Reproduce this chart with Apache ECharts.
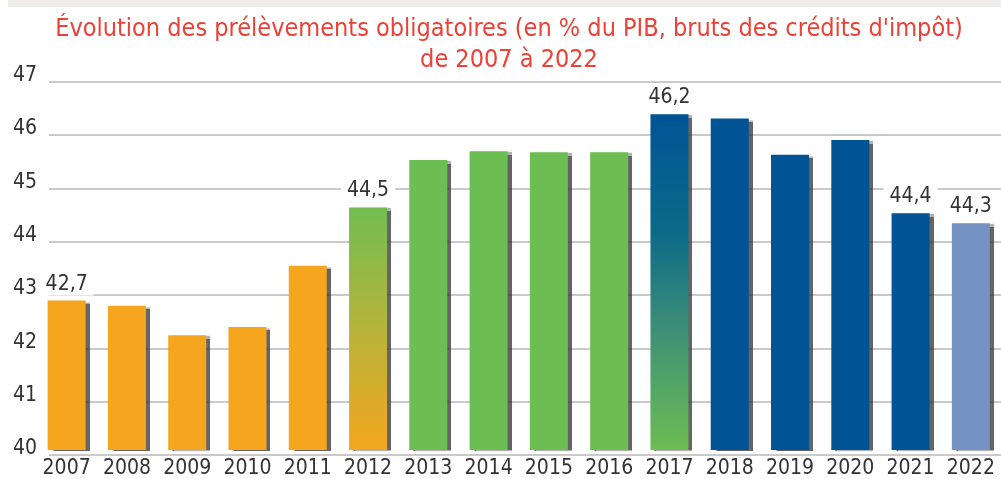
<!DOCTYPE html>
<html>
<head>
<meta charset="utf-8">
<script src="https://cdn.jsdelivr.net/npm/echarts@6/dist/echarts.min.js"></script>
<style>
  html, body { margin: 0; padding: 0; background: #fff; }
  #chart { width: 1001px; height: 479px; }
</style>
</head>
<body>
<div id="chart"></div>
<script>
// années
var years = ['2007', '2008', '2009', '2010', '2011', '2012', '2013', '2014',
             '2015', '2016', '2017', '2018', '2019', '2020', '2021', '2022'];
// hauteur des barres (% du PIB)
var values = [42.84, 42.74, 42.18, 42.34, 43.50, 44.61, 45.51, 45.68,
              45.66, 45.66, 46.38, 46.30, 45.61, 45.89, 44.50, 44.31];
// étiquettes affichées au-dessus de certaines barres
var valueLabels = ['42,7', '', '', '', '', '44,5', '', '',
                   '', '', '46,2', '', '', '', '44,4', '44,3'];
var yTicks = [40, 41, 42, 43, 44, 45, 46, 47];

var FONT = "'Liberation Sans Narrow', 'DejaVu Sans Condensed', sans-serif";

var orange = '#f5a51e';
var green = '#6cbd52';
var blue = '#005496';
var lightBlue = '#7593c2';

function grad(stops) {
    return new echarts.graphic.LinearGradient(0, 0, 0, 1, stops);
}

// couleur par année
var colors = [
    orange, orange, orange, orange, orange,
    grad([{ offset: 0, color: '#72bd50' }, { offset: 0.5, color: '#b6b43b' }, { offset: 1, color: '#f5a51e' }]),
    green, green, green, green,
    grad([{ offset: 0, color: '#005496' }, { offset: 0.35, color: '#0b6a88' }, { offset: 0.6, color: '#378a7a' }, { offset: 1, color: '#6cbd52' }]),
    blue, blue, blue, blue,
    lightBlue
];

var chart = echarts.init(document.getElementById('chart'));

chart.setOption({
    backgroundColor: '#fff',
    animation: false,
    graphic: [{
        type: 'rect',
        shape: { x: 8, y: 0, width: 993, height: 7 },
        style: { fill: '#eeede9' },
        silent: true
    }],
    title: {
        text: "Évolution des prélèvements obligatoires (en % du PIB, bruts des crédits d'impôt)\nde 2007 à 2022",
        left: 504,
        top: 9,
        textAlign: 'center',
        textStyle: {
            color: '#ec4136',
            fontFamily: FONT,
            fontSize: 25,
            fontWeight: 'normal',
            lineHeight: 31
        }
    },
    grid: [
        { left: 36.5, top: 81.7, width: 975, height: 373.3 },
        { left: 49, top: 81.7, right: 0, height: 373.3 }
    ],
    xAxis: [
        {
            type: 'category',
            gridIndex: 0,
            data: years,
            axisLine: { show: false },
            axisTick: { show: false },
            axisLabel: { interval: 0, color: '#333', fontFamily: FONT, fontSize: 21, margin: 8 }
        },
        {
            type: 'value',
            gridIndex: 1,
            show: false
        }
    ],
    yAxis: [
        {
            type: 'value',
            gridIndex: 0,
            min: 40,
            max: 47,
            interval: 1,
            show: false,
            splitLine: { show: false }
        },
        {
            type: 'value',
            gridIndex: 1,
            min: yTicks[0],
            max: yTicks[yTicks.length - 1],
            interval: 1,
            axisLine: { show: false },
            axisTick: { show: false },
            axisLabel: {
                color: '#333',
                fontFamily: FONT,
                fontSize: 21,
                margin: 12,
                verticalAlign: 'bottom',
                lineHeight: 12
            },
            splitLine: { lineStyle: { color: '#b8b8b8', width: 1.5 } }
        }
    ],
    series: [{
        type: 'bar',
        xAxisIndex: 0,
        yAxisIndex: 0,
        barWidth: 38,
        z: 3,
        data: values.map(function (v, i) {
            return {
                value: v,
                itemStyle: { color: colors[i] },
                label: { show: valueLabels[i] !== '' }
            };
        }),
        itemStyle: {
            shadowColor: 'rgba(50, 50, 50, 0.75)',
            shadowOffsetX: 4,
            shadowOffsetY: 1,
            shadowBlur: 1
        },
        label: {
            show: true,
            position: 'top',
            distance: 5,
            color: '#333',
            fontFamily: FONT,
            fontSize: 21,
            backgroundColor: '#fff',
            padding: [1, 6],
            formatter: function (p) { return valueLabels[p.dataIndex]; }
        }
    }]
});
</script>
</body>
</html>
